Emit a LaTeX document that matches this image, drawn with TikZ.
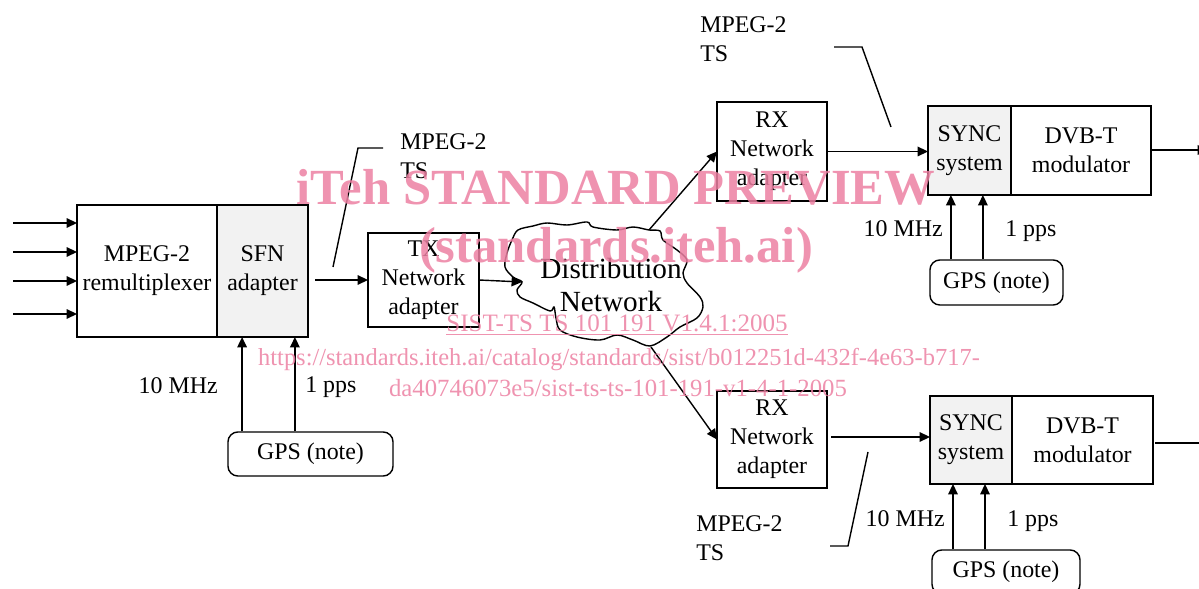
\documentclass[tikz,border=0pt]{standalone}
\usepackage{fontspec}
\setmainfont{Liberation Serif}
\usepackage{tikz}
\usetikzlibrary{shapes, arrows.meta, positioning}
\usepackage{xcolor}
\definecolor{adaptgray}{RGB}{242,242,242}
\definecolor{wmpink}{RGB}{236,128,162}

\begin{document}
\begin{tikzpicture}[
    x=0.025cm, y=-0.025cm,
    every node/.style={font=\fontsize{17}{20.5}\selectfont},
    box/.style={rectangle, draw=black, line width=1pt, align=center,
                inner sep=1pt, outer sep=0pt},
    gpsbox/.style={rectangle, draw=black, line width=1pt, rounded corners=7pt,
                   minimum height=1.1cm, inner sep=1pt},
    arrow/.style={-{Triangle[length=2.6mm, width=2.4mm]}, line width=1pt},
    leader/.style={line width=1pt},
    lbl/.style={inner sep=0pt},
    wmark/.style={text=wmpink, opacity=0.85, inner sep=0pt}
]
\useasboundingbox (0,0) rectangle (1199,589);
\clip (0,0) rectangle (1199,589);

% head end
\node[box, minimum width=3.5cm, minimum height=3.3cm] (remux) at (147,271) {MPEG-2\\remultiplexer};
\node[box, fill=adaptgray, minimum width=2.275cm, minimum height=3.3cm, right=0pt of remux] (sfn) {SFN\\adapter};
\node[gpsbox, minimum width=4.125cm] (gpsA) at (310.5,454) {GPS (note)};
\node[box, minimum width=2.775cm, minimum height=2.35cm] (tx) at (423.5,280) {TX\\Network\\adapter};

\foreach \y [count=\i] in {223,252,281,314} {
  \coordinate (in\i) at (13,\y);
  \draw[arrow] (in\i) -- (in\i -| remux.west);
}
\draw[arrow] ([xshift=-1.71cm]gpsA.north) -- ([xshift=-1.71cm]gpsA.north |- sfn.south);
\draw[arrow] ([xshift=-0.39cm]gpsA.north) -- ([xshift=-0.39cm]gpsA.north |- sfn.south);
\node[lbl, anchor=base east] (mhzA) at (218,394) {10 MHz};
\node[lbl, anchor=base west] (ppsA) at (305,393) {1 pps};
\draw[arrow] ([xshift=0.18cm]sfn.east |- tx.west) -- (tx.west);
\node[lbl, anchor=west, align=left] (tsA) at (400,156.5) {MPEG-2\\TS};
\draw[leader] (333,267) -- (358,148) -- (383,148);

% distribution network
\draw[line width=1pt, fill=white] plot[smooth cycle, tension=0.55] coordinates {
  (518,230) (533,226) (547,223) (567,225) (587,222) (593,227) (617,230)
  (633,227) (649,230) (660,231) (663,240) (677,250) (687,260) (683,273)
  (687,283) (700,297) (703,307) (697,318) (680,327) (667,337) (650,346)
  (633,340) (617,335) (600,340) (577,337) (560,330) (556,318) (554,307)
  (550,311) (533,303) (520,297) (517,290) (522,282) (513,277) (505,267)
  (507,253) (512,240)};
\node[font=\fontsize{20.8}{23.5}\selectfont, align=center] (net) at (611,285) {Distribution\\Network};
\coordinate (netW) at (522,282);
\coordinate (netN) at (649,230);
\coordinate (netS) at (651,347);
\draw[arrow] (tx.east) -- (netW);

% upper transmitter
\node[box, minimum width=2.75cm, minimum height=2.475cm] (rxA) at (772,151.5) {RX\\Network\\adapter};
\node[box, fill=adaptgray, minimum width=2.075cm, minimum height=2.225cm] (syncA) at (969.5,150.5) {SYNC\\system};
\node[box, minimum width=3.5cm, minimum height=2.225cm, right=0pt of syncA] (dvbA) {DVB-T\\modulator};
\node[gpsbox, minimum width=3.325cm, minimum height=1.125cm] (gpsB) at (996.5,282.5) {GPS (note)};
\coordinate (outA) at (1208,150);
\draw[arrow] (netN) -- (rxA.west);
\draw[arrow] (rxA.east) -- (rxA.east -| syncA.west);
\draw[arrow] (dvbA.east |- outA) -- (outA);
\draw[arrow] ([xshift=-1.14cm]gpsB.north) -- ([xshift=-1.14cm]gpsB.north |- syncA.south);
\draw[arrow] ([xshift=-0.34cm]gpsB.north) -- ([xshift=-0.34cm]gpsB.north |- syncA.south);
\node[lbl, anchor=base east] (mhzB) at (943,237) {10 MHz};
\node[lbl, anchor=base west] (ppsB) at (1005,237) {1 pps};
\node[lbl, anchor=west, align=left] (tsB) at (700,39.5) {MPEG-2\\TS};
\draw[leader] (834,47) -- (862,47) -- (891,127);

% lower transmitter
\node[box, minimum width=2.75cm, minimum height=2.425cm] (rxB) at (772,439.5) {RX\\Network\\adapter};
\node[box, fill=adaptgray, minimum width=2.05cm, minimum height=2.2cm] (syncB) at (971,440) {SYNC\\system};
\node[box, minimum width=3.525cm, minimum height=2.2cm, right=0pt of syncB] (dvbB) {DVB-T\\modulator};
\node[gpsbox, minimum width=3.7cm] (gpsC) at (1006,572) {GPS (note)};
\coordinate (outB) at (1225,443);
\draw[arrow] (netS) -- (rxB.west);
\draw[arrow] ([xshift=0.1cm]rxB.east |- 0,437) -- (syncB.west |- 0,437);
\draw[arrow] ([xshift=0.05cm]dvbB.east |- outB) -- (outB);
\draw[arrow] ([xshift=-1.325cm]gpsC.north) -- ([xshift=-1.325cm]gpsC.north |- syncB.south);
\draw[arrow] ([xshift=-0.525cm]gpsC.north) -- ([xshift=-0.525cm]gpsC.north |- syncB.south);
\node[lbl, anchor=base east] (mhzC) at (945,527) {10 MHz};
\node[lbl, anchor=base west] (ppsC) at (1007,527) {1 pps};
\node[lbl, anchor=west, align=left] (tsC) at (696,538) {MPEG-2\\TS};
\draw[leader] (868,452) -- (848,546) -- (830,546);

% watermark
\node[wmark, anchor=base, font=\fontsize{36}{40}\selectfont\bfseries] (wm1) at (616,205) {iTeh STANDARD PREVIEW};
\node[wmark, anchor=base, font=\fontsize{36}{40}\selectfont\bfseries] (wm2) at (616,263) {(standards.iteh.ai)};
\node[wmark, anchor=base, font=\fontsize{17.8}{20}\selectfont] (wm3) at (617,332) {\underline{SIST-TS TS 101 191 V1.4.1:2005}};
\node[wmark, anchor=base, font=\fontsize{17.4}{20}\selectfont] (wm4) at (619,366) {https://standards.iteh.ai/catalog/standards/sist/b012251d-432f-4e63-b717-};
\node[wmark, anchor=base, font=\fontsize{17.6}{20}\selectfont] (wm5) at (618,397) {da40746073e5/sist-ts-ts-101-191-v1-4-1-2005};
\end{tikzpicture}
\end{document}
